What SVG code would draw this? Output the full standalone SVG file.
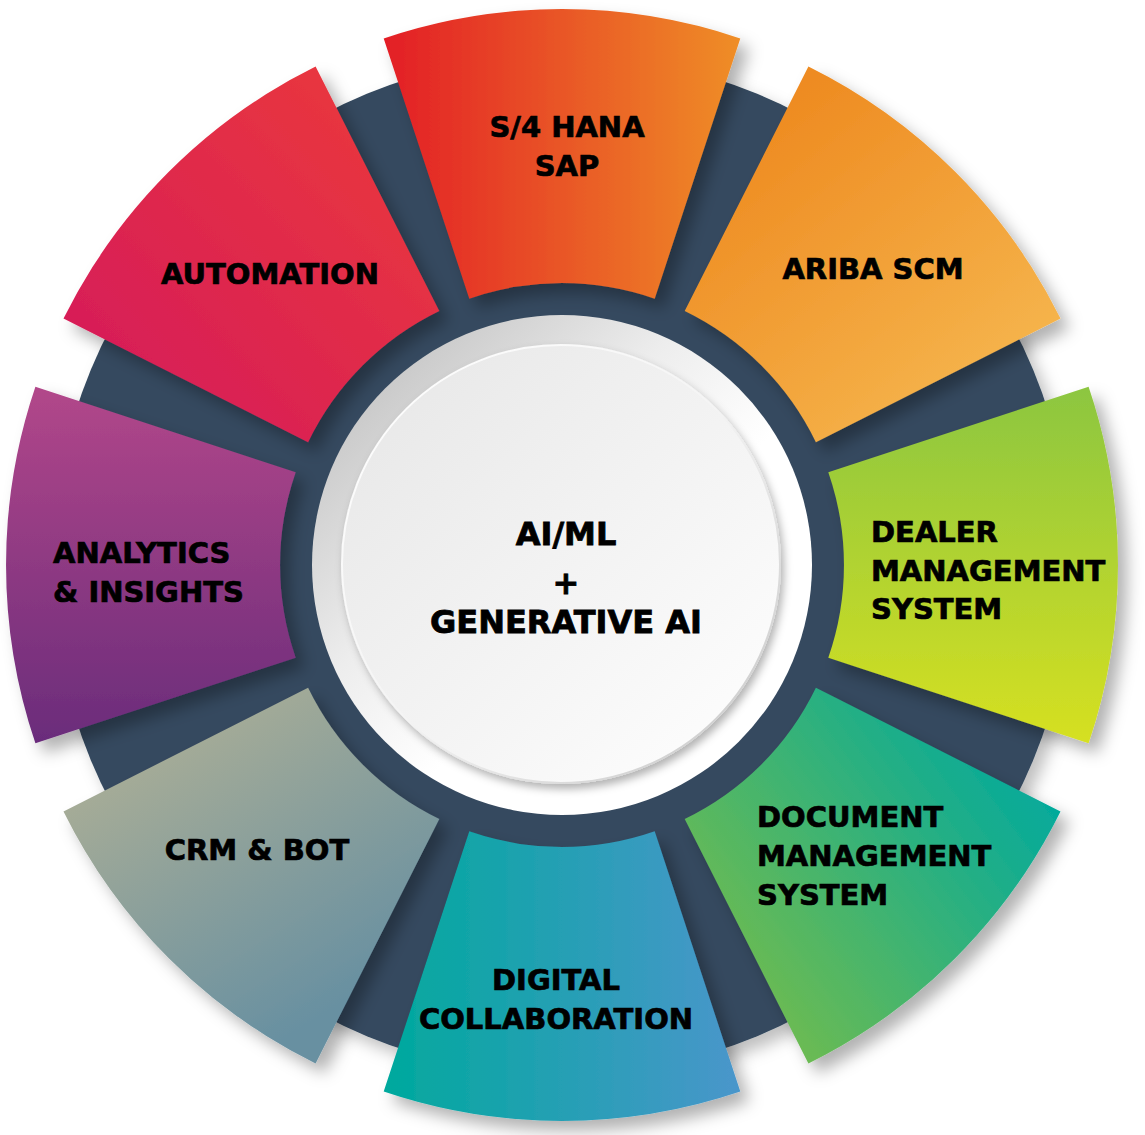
<svg xmlns="http://www.w3.org/2000/svg" width="1145" height="1135" viewBox="0 0 1145 1135">
  <defs>
    <style>
      .lbl { font-family: "DejaVu Sans", "Liberation Sans", sans-serif; font-weight: bold; font-size: 29px; fill: #000; stroke: #000; stroke-width: 0.7px; }
      .mid { text-anchor: middle; }
      .ctr { font-family: "DejaVu Sans", "Liberation Sans", sans-serif; font-weight: bold; font-size: 32px; fill: #000; stroke: #000; stroke-width: 0.8px; text-anchor: middle; }
      .seg { filter: url(#segShadow); }
    </style>
    <filter id="segShadow" x="-30%" y="-30%" width="160%" height="160%">
      <feDropShadow dx="9" dy="10" stdDeviation="8" flood-color="#000" flood-opacity="0.3"/>
    </filter>
    <filter id="ringShadow" x="-20%" y="-20%" width="140%" height="140%">
      <feDropShadow dx="8" dy="9" stdDeviation="8" flood-color="#000" flood-opacity="0.25"/>
    </filter>
    <filter id="discShadow" x="-20%" y="-20%" width="140%" height="140%">
      <feDropShadow dx="3" dy="5" stdDeviation="4" flood-color="#000" flood-opacity="0.3"/>
    </filter>
    <linearGradient id="gS4" gradientUnits="userSpaceOnUse" x1="384" y1="0" x2="740" y2="0">
      <stop offset="0" stop-color="#e31e25"/>
      <stop offset="1" stop-color="#ef8e26"/>
    </linearGradient>
    <linearGradient id="gAriba" gradientUnits="userSpaceOnUse" x1="760" y1="120" x2="1000" y2="420">
      <stop offset="0" stop-color="#ee8b21"/>
      <stop offset="1" stop-color="#f6b850"/>
    </linearGradient>
    <linearGradient id="gDealer" gradientUnits="userSpaceOnUse" x1="0" y1="387" x2="0" y2="743">
      <stop offset="0" stop-color="#8cc640"/>
      <stop offset="1" stop-color="#d6e021"/>
    </linearGradient>
    <linearGradient id="gDoc" gradientUnits="userSpaceOnUse" x1="1060" y1="790" x2="760" y2="1010">
      <stop offset="0" stop-color="#00a99e"/>
      <stop offset="1" stop-color="#6dbb51"/>
    </linearGradient>
    <linearGradient id="gDigital" gradientUnits="userSpaceOnUse" x1="384" y1="0" x2="740" y2="0">
      <stop offset="0" stop-color="#00a99d"/>
      <stop offset="1" stop-color="#4a96cb"/>
    </linearGradient>
    <linearGradient id="gCRM" gradientUnits="userSpaceOnUse" x1="150" y1="720" x2="330" y2="1010">
      <stop offset="0" stop-color="#abae96"/>
      <stop offset="1" stop-color="#6890a1"/>
    </linearGradient>
    <linearGradient id="gAnalytics" gradientUnits="userSpaceOnUse" x1="0" y1="387" x2="0" y2="743">
      <stop offset="0" stop-color="#b2478a"/>
      <stop offset="1" stop-color="#6a2c7b"/>
    </linearGradient>
    <linearGradient id="gAuto" gradientUnits="userSpaceOnUse" x1="90" y1="380" x2="360" y2="120">
      <stop offset="0" stop-color="#d61c59"/>
      <stop offset="1" stop-color="#e8353f"/>
    </linearGradient>
    <linearGradient id="gRing" x1="0.1" y1="0.1" x2="0.9" y2="0.9">
      <stop offset="0" stop-color="#c4c4c4"/>
      <stop offset="0.35" stop-color="#ededed"/>
      <stop offset="0.6" stop-color="#ffffff"/>
      <stop offset="1" stop-color="#ffffff"/>
    </linearGradient>
    <linearGradient id="gDisc" x1="0" y1="0" x2="1" y2="1">
      <stop offset="0" stop-color="#e6e6e6"/>
      <stop offset="1" stop-color="#ffffff"/>
    </linearGradient>
    <linearGradient id="gRim" x1="0" y1="0" x2="1" y2="1">
      <stop offset="0" stop-color="#ffffff"/>
      <stop offset="0.5" stop-color="#f4f4f4"/>
      <stop offset="1" stop-color="#c4c4c4"/>
    </linearGradient>
  </defs>

  <rect x="0" y="0" width="1145" height="1135" fill="#ffffff"/>

  <g id="ring">
    <circle cx="562" cy="565" r="510" fill="#34495e" filter="url(#ringShadow)"/>
    <circle cx="562" cy="565" r="250" fill="url(#gRing)"/>
  </g>

  <g id="connectors"></g>

  <g id="node-s4hana">
    <path class="seg" fill="url(#gS4)" d="M383.7 38.4 A556 556 0 0 1 740.3 38.4 L654.7 298.7 A282 282 0 0 0 469.3 298.7 Z"/>
    <text class="lbl mid" x="567" y="137">S/4 HANA</text>
    <text class="lbl mid" x="567" y="176">SAP</text>
  </g>

  <g id="node-ariba">
    <path class="seg" fill="url(#gAriba)" d="M808.4 66.5 A556 556 0 0 1 1060.5 318.6 L815.9 442.3 A282 282 0 0 0 684.7 311.1 Z"/>
    <text class="lbl mid" x="873" y="279">ARIBA SCM</text>
  </g>

  <g id="node-dealer">
    <path class="seg" fill="url(#gDealer)" d="M1088.6 386.7 A556 556 0 0 1 1088.6 743.3 L828.3 657.7 A282 282 0 0 0 828.3 472.3 Z"/>
    <text class="lbl" x="871" y="542">DEALER</text>
    <text class="lbl" x="871" y="581">MANAGEMENT</text>
    <text class="lbl" x="871" y="619">SYSTEM</text>
  </g>

  <g id="node-document">
    <path class="seg" fill="url(#gDoc)" d="M1060.5 811.4 A556 556 0 0 1 808.4 1063.5 L684.7 818.9 A282 282 0 0 0 815.9 687.7 Z"/>
    <text class="lbl" x="757" y="827">DOCUMENT</text>
    <text class="lbl" x="757" y="866">MANAGEMENT</text>
    <text class="lbl" x="757" y="905">SYSTEM</text>
  </g>

  <g id="node-digital">
    <path class="seg" fill="url(#gDigital)" d="M740.3 1091.6 A556 556 0 0 1 383.7 1091.6 L469.3 831.3 A282 282 0 0 0 654.7 831.3 Z"/>
    <text class="lbl mid" x="556" y="990">DIGITAL</text>
    <text class="lbl mid" x="556" y="1029">COLLABORATION</text>
  </g>

  <g id="node-crm">
    <path class="seg" fill="url(#gCRM)" d="M315.6 1063.5 A556 556 0 0 1 63.5 811.4 L308.1 687.7 A282 282 0 0 0 439.3 818.9 Z"/>
    <text class="lbl mid" x="257" y="860">CRM &amp; BOT</text>
  </g>

  <g id="node-analytics">
    <path class="seg" fill="url(#gAnalytics)" d="M35.4 743.3 A556 556 0 0 1 35.4 386.7 L295.7 472.3 A282 282 0 0 0 295.7 657.7 Z"/>
    <text class="lbl" x="53" y="563">ANALYTICS</text>
    <text class="lbl" x="53" y="602">&amp; INSIGHTS</text>
  </g>

  <g id="node-automation">
    <path class="seg" fill="url(#gAuto)" d="M63.5 318.6 A556 556 0 0 1 315.6 66.5 L439.3 311.1 A282 282 0 0 0 308.1 442.3 Z"/>
    <text class="lbl mid" x="270" y="284">AUTOMATION</text>
  </g>

  <g id="node-center">
    <circle cx="561" cy="564" r="219" fill="url(#gDisc)" stroke="url(#gRim)" stroke-width="2" filter="url(#discShadow)"/>
    <text class="ctr" x="566" y="545">AI/ML</text>
    <text class="ctr" x="566" y="594">+</text>
    <text class="ctr" x="566" y="633">GENERATIVE AI</text>
  </g>
</svg>
